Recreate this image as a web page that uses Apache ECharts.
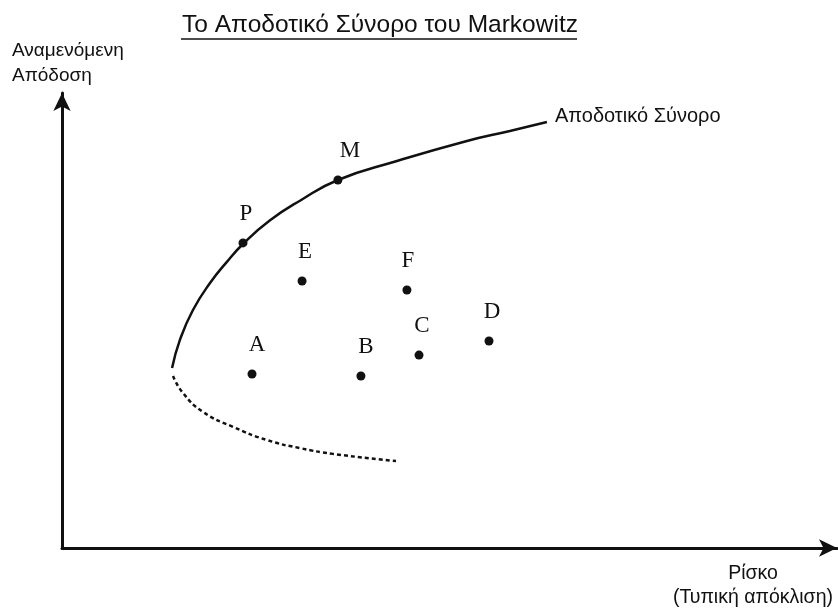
<!DOCTYPE html>
<html>
<head>
<meta charset="utf-8">
<script src="https://cdn.jsdelivr.net/npm/echarts@6/dist/echarts.min.js"></script>
<style>
	html, body { margin: 0; padding: 0; background: #fff; }
	#chart { width: 838px; height: 610px; }
</style>
</head>
<body>
<div id="chart"></div>
<script>
// efficient frontier (solid upper part)
var frontierRisk   = [5.74, 6.15, 6.83, 7.72, 8.60, 9.44, 10.85, 12.41, 14.39, 17.47, 21.12, 23.36, 25.29];
var frontierReturn = [8.07, 9.33, 10.67, 11.88, 12.83, 13.63, 14.69, 15.57, 16.50, 17.35, 18.25, 18.70, 19.10];
// lower (inefficient) part, dashed
var lowerRisk   = [5.79, 6.31, 7.35, 8.92, 10.69, 12.41, 14.13, 17.42];
var lowerReturn = [7.71, 6.95, 6.10, 5.43, 4.84, 4.48, 4.22, 3.90];
// portfolios
var pointNames  = ['P', 'M', 'E', 'F', 'A', 'B', 'C', 'D'];
var pointRisk   = [9.44, 14.39, 12.52, 17.99, 9.91, 15.59, 18.62, 22.27];
var pointReturn = [13.68, 16.50, 11.97, 11.57, 7.80, 7.71, 8.65, 9.28];

var labelShift = {P: [3, 0], M: [12, 0], E: [3, 0], F: [1, 0], A: [5, 0], B: [5, 0], C: [3, 0], D: [3, 0]};

function zip(xs, ys) {
	var arr = [];
	for (var i = 0; i < xs.length; i++) {
		arr.push([xs[i], ys[i]]);
	}
	return arr;
}

var chart = echarts.init(document.getElementById('chart'));
var sans = '"Liberation Sans", Arial, sans-serif';
var serif = '"Liberation Serif", "Times New Roman", serif';

var option = {
	animation: false,
	backgroundColor: '#fff',
	title: {
		text: 'Το Αποδοτικό Σύνορο του Markowitz',
		left: 375,
		textAlign: 'center',
		top: 8,
		textStyle: { fontFamily: sans, fontSize: 24.5, fontWeight: 'normal', color: '#111' }
	},
	// axis scale: 19.175 px per risk unit, 22.3 px per return unit
	grid: { left: 62, right: 1, top: 93, bottom: 62 },
	xAxis: {
		type: 'value', min: 0, max: 40.42,
		splitLine: { show: false }, axisTick: { show: false }, axisLabel: { show: false },
		axisLine: { onZero: false, symbol: ['none', 'arrow'], symbolSize: [13, 18],
			lineStyle: { color: '#111', width: 3 } }
	},
	yAxis: {
		type: 'value', min: 0, max: 20.4,
		splitLine: { show: false }, axisTick: { show: false }, axisLabel: { show: false },
		axisLine: { show: true, onZero: false, symbol: ['none', 'arrow'], symbolSize: [13, 18],
			lineStyle: { color: '#111', width: 3 } }
	},
	graphic: [
		{ type: 'line', shape: { x1: 181, y1: 39, x2: 577, y2: 39 }, style: { stroke: '#111', lineWidth: 1.6 } },
		{ type: 'text', x: 12, y: 38, style: { text: 'Αναμενόμενη\nΑπόδοση', font: '19px ' + sans, fill: '#111', lineHeight: 25 } },
		{ type: 'text', x: 753, y: 562, style: { text: 'Ρίσκο\n(Τυπική απόκλιση)', font: '19.5px ' + sans, fill: '#111', lineHeight: 24, align: 'center' } }
	],
	series: [
		{
			type: 'line',
			data: zip(frontierRisk, frontierReturn),
			smooth: 0.5,
			symbol: 'none',
			lineStyle: { color: '#111', width: 2.5 },
			endLabel: { show: true, formatter: 'Αποδοτικό Σύνορο', distance: 8,
				fontFamily: sans, fontSize: 20, color: '#111', offset: [0, -6] }
		},
		{
			type: 'line',
			data: zip(lowerRisk, lowerReturn),
			smooth: 0.5,
			symbol: 'none',
			lineStyle: { color: '#111', width: 2.5, type: [4, 3] }
		},
		{
			type: 'scatter',
			symbolSize: 9,
			itemStyle: { color: '#111', opacity: 1 },
			data: pointNames.map(function (n, i) {
				return {
					name: n,
					value: [pointRisk[i], pointReturn[i]],
					label: { offset: labelShift[n] }
				};
			}),
			label: {
				show: true, position: 'top', distance: 13,
				formatter: '{b}',
				fontFamily: serif, fontSize: 23, color: '#111'
			}
		}
	]
};
chart.setOption(option);
</script>
</body>
</html>
